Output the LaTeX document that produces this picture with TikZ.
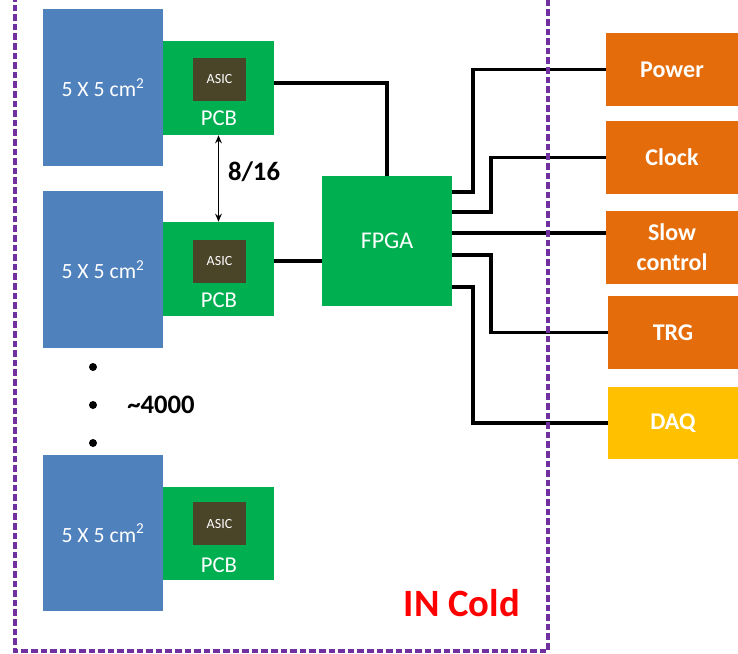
\documentclass[tikz,border=0pt]{standalone}
\usepackage{fontspec}
\setmainfont{Carlito}
\usetikzlibrary{fit,arrows.meta}
\definecolor{cblue}{HTML}{4F81BD}
\definecolor{cgreen}{HTML}{00B050}
\definecolor{casic}{HTML}{4A4429}
\definecolor{corange}{HTML}{E46C0A}
\definecolor{cyellow}{HTML}{FFC000}
\definecolor{cpurple}{HTML}{7030A0}
\definecolor{cred}{HTML}{FF0000}
\tikzset{
  sensor/.style={fill=cblue, inner sep=0pt, text=white, font=\fontsize{16.3}{19}\selectfont},
  pcb/.style={fill=cgreen, inner sep=0pt},
  pcblabel/.style={text=white, inner sep=0pt, font=\fontsize{17}{20}\selectfont},
  asic/.style={fill=casic, inner sep=0pt, text=white, font=\fontsize{10.5}{12}\selectfont},
  fpgabox/.style={fill=cgreen, inner sep=0pt, text=white, font=\fontsize{18}{21}\selectfont},
  ext/.style={fill=corange, inner sep=0pt, text=white, align=center, font=\bfseries\fontsize{18}{22.5}\selectfont},
  wire/.style={line width=2.3pt, black},
  dotmark/.style={circle, fill=black, inner sep=0pt, minimum size=6pt},
  boldlabel/.style={inner sep=0pt, font=\bfseries\fontsize{20}{23}\selectfont},
}
\begin{document}
\begin{tikzpicture}[x=0.75pt, y=-0.75pt]
\useasboundingbox (0,0) rectangle (738,653);
% sensor blocks
\node[sensor, fit={(43,9) (163,166)}] (b1) {};
\node[sensor] at (b1.center) {5 X 5 cm\textsuperscript{2}};
\node[pcb, fit={(163,41) (274,135)}] (p1) {};
\node[asic, fit={(193,58) (246,101)}] (a1) {};
\node[asic, fill=none] at (a1.center) {ASIC};
\node[pcblabel] (l1) at (219,118) {PCB};

\node[sensor, fit={(43,191) (163,348)}] (b2) {};
\node[sensor] at (b2.center) {5 X 5 cm\textsuperscript{2}};
\node[pcb, fit={(163,222) (274,316)}] (p2) {};
\node[asic, fit={(193,240) (246,283)}] (a2) {};
\node[asic, fill=none] at (a2.center) {ASIC};
\node[pcblabel] (l2) at (219,300) {PCB};

\node[sensor, fit={(43,455) (163,611)}] (b3) {};
\node[sensor] at (b3.center) {5 X 5 cm\textsuperscript{2}};
\node[pcb, fit={(163,487) (274,580)}] (p3) {};
\node[asic, fit={(193,502) (246,545)}] (a3) {};
\node[asic, fill=none] at (a3.center) {ASIC};
\node[pcblabel] (l3) at (219,565) {PCB};

% FPGA
\node[fpgabox, fit={(322,176) (452,306)}] (fpga) {};
\node[fpgabox, fill=none] at (fpga.center) {FPGA};

% external boxes
\node[ext, fit={(606,33) (738,106)}] (power) {};
\node[ext, fill=none] at (power.center) {Power};
\node[ext, fit={(606,121) (738,194)}] (clock) {};
\node[ext, fill=none] at (clock.center) {Clock};
\node[ext, fit={(606,211) (738,284)}] (slow) {};
\node[ext, fill=none] at (slow.center) {Slow\\control};
\node[ext, fit={(608,296) (738,369)}] (trg) {};
\node[ext, fill=none] at (trg.center) {TRG};
\node[ext, fill=cyellow, fit={(608,387) (738,459)}] (daq) {};
\node[ext, fill=none] at (daq.center) {DAQ};

% wires
\draw[wire] (p1.east |- 0,83) -| (fpga.north);
\draw[wire] (p2.east |- 0,261) -- (fpga.west |- 0,261);
\draw[wire] (fpga.east |- 0,192) -- (473,192) |- (power.west);
\draw[wire] (fpga.east |- 0,212) -- (491,212) |- (clock.west);
\draw[wire] (fpga.east |- 0,233) -- (slow.west |- 0,233);
\draw[wire] (fpga.east |- 0,255) -- (491,255) |- (trg.west);
\draw[wire] (fpga.east |- 0,287) -- (473,287) |- (daq.west);

% 8/16 arrow
\draw[line width=1.4pt, {Stealth[length=6pt,width=5pt]}-{Stealth[length=6pt,width=5pt]}] (p1.south) -- (p2.north);
\node[boldlabel] (lbl816) at (254,172) {8/16};

% dots
\node[dotmark] (d1) at (93,367) {};
\node[dotmark] (d2) at (93,405) {};
\node[dotmark] (d3) at (93,443) {};
\node[boldlabel] (n4000) at (161,405) {\textasciitilde4000};

% cold region
\draw[cpurple, line width=2.3pt, dash pattern=on 5pt off 2.2pt] (15,-5) -- (15,651) -- (548,651) -- (548,-5);
\node[text=cred, inner sep=0pt, font=\bfseries\fontsize{29}{33}\selectfont] (cold) at (462,603) {IN Cold};
\end{tikzpicture}
\end{document}
